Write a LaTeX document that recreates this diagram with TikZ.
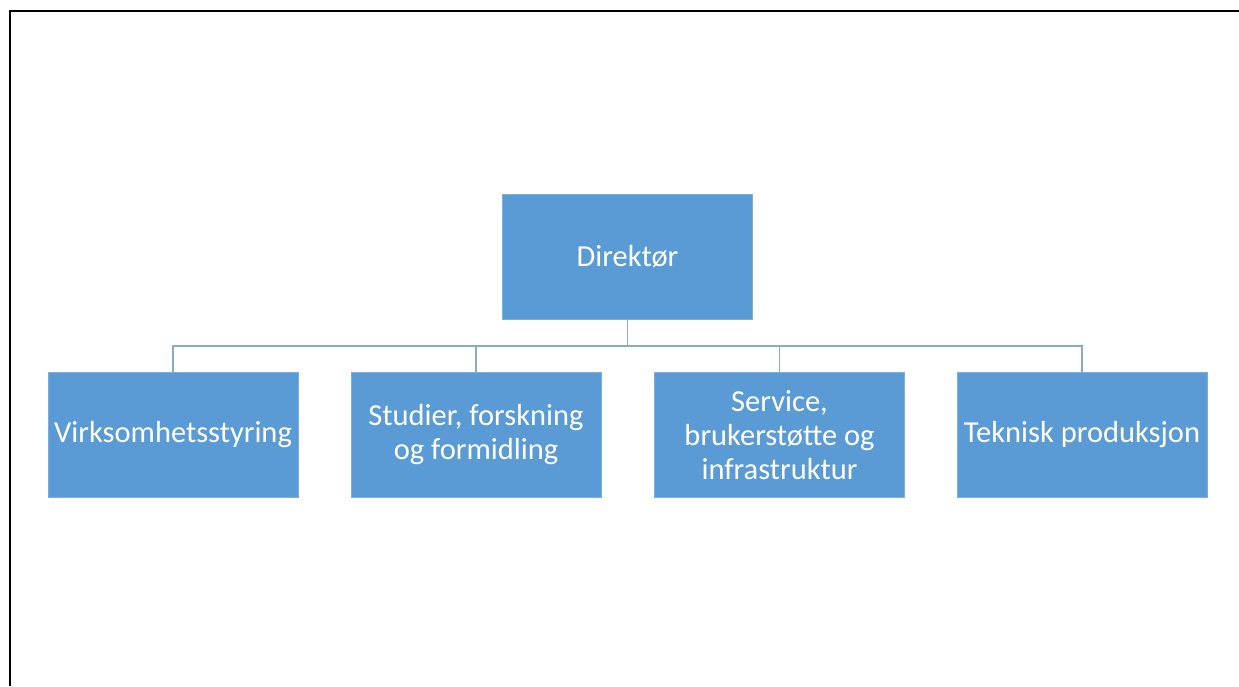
\documentclass[tikz,border=0pt]{standalone}
\usepackage{fontspec}
\setmainfont{Carlito}
\definecolor{boxblue}{HTML}{5B9BD5}
\definecolor{linkblue}{HTML}{8CA9CC}
\begin{document}
\begin{tikzpicture}[x=1pt,y=-1pt,
  orgbox/.style={rectangle, fill=boxblue, draw=boxblue!80!white, line width=0.8pt,
    minimum width=250pt, minimum height=125pt, inner sep=2pt,
    text=white, align=center,
    font=\fontsize{30.5}{34}\selectfont},
  conn/.style={draw=linkblue, line width=1.6pt}]
\useasboundingbox (0,0) rectangle (1239,686);
\fill[white] (0,0) rectangle (1239,686);
\draw[line width=2.5pt, black] (10,686) -- (10,11) -- (1239,11);
\node[orgbox] (dir) at (627.5,256.5) {Direktør};
\node[orgbox] (c1) at (173,435) {Virksomhetsstyring};
\node[orgbox] (c2) at (476,435) {Studier, forskning\\og formidling};
\node[orgbox] (c3) at (779.5,435) {Service,\\brukerstøtte og\\infrastruktur};
\node[orgbox] (c4) at (1082,435) {Teknisk produksjon};
\coordinate (bus) at (627.5,346);
\draw[conn] (dir.south) -- (bus);
\draw[conn] (bus) -| (c1.north);
\draw[conn] (bus) -| (c2.north);
\draw[conn] (bus) -| (c3.north);
\draw[conn] (bus) -| (c4.north);
\end{tikzpicture}
\end{document}
